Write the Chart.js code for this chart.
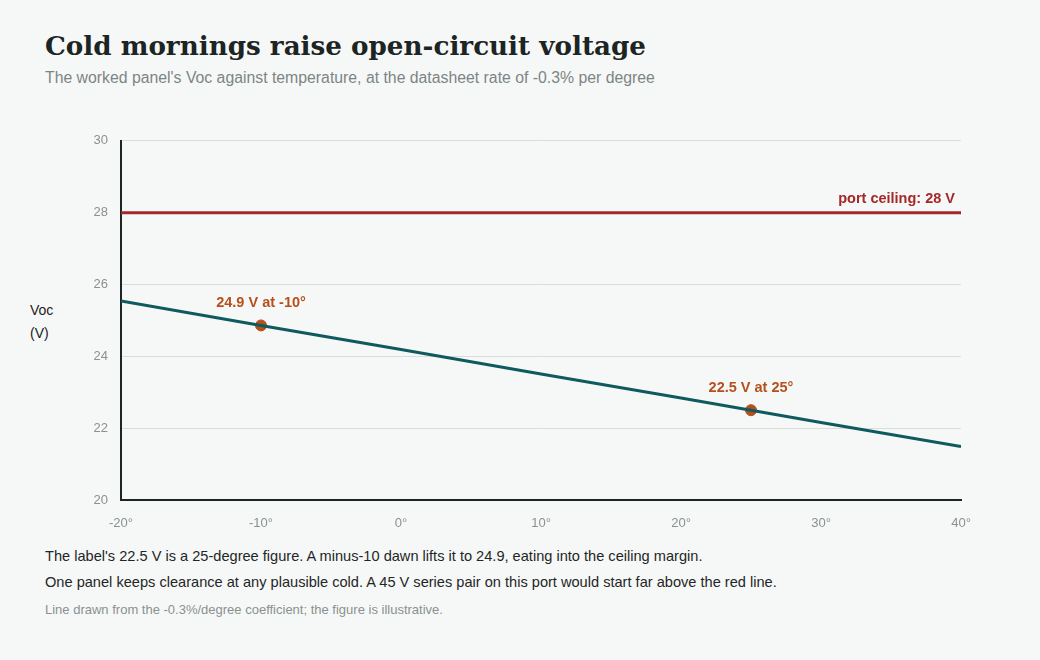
<!DOCTYPE html>
<html lang="en">
<head>
<meta charset="UTF-8">
<title>Cold mornings raise open-circuit voltage</title>
<script src="https://cdn.jsdelivr.net/npm/chart.js"></script>
<style>
    body {
        margin: 0;
        width: 1040px;
        height: 660px;
        background: #f6f8f7;
        font-family: "Liberation Sans", Arial, sans-serif;
        position: relative;
        overflow: hidden;
    }
    h1 {
        position: absolute;
        left: 45px;
        top: 30px;
        margin: 0;
        font-family: "DejaVu Serif", serif;
        font-size: 26.2px;
        font-weight: bold;
        color: #1c2424;
    }
    .sub {
        position: absolute;
        left: 45px;
        top: 69px;
        font-size: 15.8px;
        color: #7d8584;
    }
    .ytitle {
        position: absolute;
        left: 30px;
        top: 299px;
        font-size: 14px;
        line-height: 23px;
        color: #222;
    }
    .chart-box {
        position: absolute;
        left: 0;
        top: 120px;
        width: 1040px;
        height: 420px;
    }
    .note {
        position: absolute;
        left: 45px;
        font-size: 14.6px;
        color: #1f2626;
    }
    .foot {
        position: absolute;
        left: 45px;
        top: 602px;
        font-size: 13px;
        color: #8a9190;
    }
</style>
</head>
<body>
<h1>Cold mornings raise open-circuit voltage</h1>
<div class="sub">The worked panel's Voc against temperature, at the datasheet rate of -0.3% per degree</div>
<div class="ytitle">Voc<br>(V)</div>
<div class="chart-box"><canvas id="voc"></canvas></div>
<div class="note" style="top:548px">The label's 22.5 V is a 25-degree figure. A minus-10 dawn lifts it to 24.9, eating into the ceiling margin.</div>
<div class="note" style="top:574px">One panel keeps clearance at any plausible cold. A 45 V series pair on this port would start far above the red line.</div>
<div class="foot">Line drawn from the -0.3%/degree coefficient; the figure is illustrative.</div>

<script>
// values
const temps = [-20, -10, 0, 10, 20, 25, 30, 40];
const voc = [25.54, 24.86, 24.19, 23.51, 22.84, 22.5, 22.16, 21.49];
const markTemps = [-10, 25];
const markVoc = [24.86, 22.5];
const markLabels = ['24.9 V at -10°', '22.5 V at 25°'];
const ceiling = 28;
const ceilingLabel = 'port ceiling: 28 V';

const teal = '#0f5a5e';
const rust = '#b5501c';
const red = '#a4282a';

// text labels next to the marked points and the ceiling line
const labelPlugin = {
    id: 'labels',
    afterDatasetsDraw(chart) {
        const ctx = chart.ctx;
        const x = chart.scales.x, y = chart.scales.y;
        ctx.save();
        ctx.font = 'bold 14.5px "Liberation Sans", Arial, sans-serif';
        ctx.textBaseline = 'middle';
        ctx.textAlign = 'center';
        ctx.fillStyle = rust;
        markTemps.forEach((t, i) => {
            ctx.fillText(markLabels[i], x.getPixelForValue(t), y.getPixelForValue(markVoc[i]) - 22);
        });
        ctx.textAlign = 'right';
        ctx.fillStyle = red;
        ctx.fillText(ceilingLabel, chart.chartArea.right - 6, y.getPixelForValue(ceiling) - 14);
        ctx.restore();
    }
};

new Chart(document.getElementById('voc'), {
    type: 'line',
    data: {
        datasets: [
            {
                data: [{ x: temps[0], y: ceiling }, { x: temps[temps.length - 1], y: ceiling }],
                borderColor: red,
                borderWidth: 3,
                pointRadius: 0
            },
            {
                data: temps.map((t, i) => ({ x: t, y: voc[i] })),
                borderColor: teal,
                borderWidth: 3,
                pointRadius: 0
            },
            {
                data: markTemps.map((t, i) => ({ x: t, y: markVoc[i] })),
                showLine: false,
                pointRadius: 5.5,
                pointBackgroundColor: rust,
                pointBorderColor: rust
            }
        ]
    },
    options: {
        responsive: true,
        maintainAspectRatio: false,
        animation: false,
        layout: { padding: { top: 20, right: 79, bottom: 10, left: 0 } },
        plugins: {
            legend: { display: false },
            tooltip: { enabled: false }
        },
        scales: {
            x: {
                type: 'linear',
                min: -20,
                max: 40,
                grid: { display: false },
                border: { display: true, color: '#1c2424', width: 2 },
                ticks: {
                    stepSize: 10,
                    padding: 8,
                    color: '#8a9190',
                    font: { size: 13, family: '"Liberation Sans", Arial, sans-serif' },
                    callback: v => v + '°'
                },
                afterFit: s => { s.height = 30; }
            },
            y: {
                min: 20,
                max: 30,
                grid: { color: '#d9dddc', lineWidth: 1, drawTicks: false },
                border: { display: true, color: '#1c2424', width: 2 },
                ticks: {
                    stepSize: 2,
                    padding: 13,
                    color: '#8a9190',
                    font: { size: 13, family: '"Liberation Sans", Arial, sans-serif' }
                },
                afterFit: s => { s.width = 121; }
            }
        }
    },
    plugins: [labelPlugin]
});
</script>
</body>
</html>
